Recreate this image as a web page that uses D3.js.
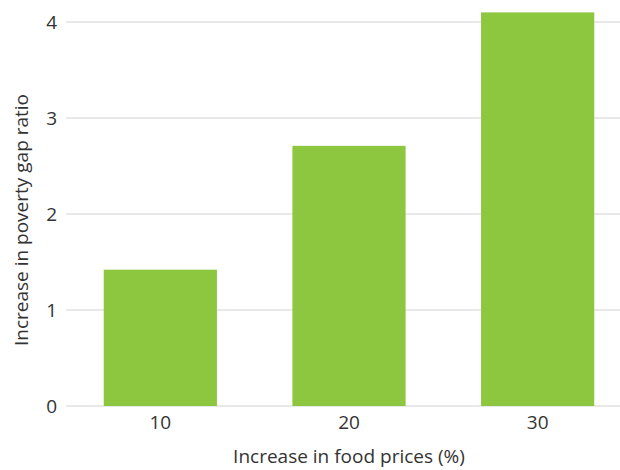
<!DOCTYPE html>
<html>
<head>
<meta charset="utf-8">
<script src="https://cdn.jsdelivr.net/npm/d3@7"></script>
<style>
  body { margin: 0; background: #fff; }
  text { font-family: "Open Sans", Lato, sans-serif; fill: #333; }
</style>
</head>
<body>
<div id="chart"></div>
<script>
// Data
const foodPriceIncrease = ["10", "20", "30"];
const povertyGapIncrease = [1.42, 2.71, 4.1];
const yTicks = [0, 1, 2, 3, 4];

const W = 620, H = 470;
const margin = { top: 22, left: 66, bottom: 64 };
const plotBottom = H - margin.bottom; // 406
const fontSize = "19px";

const svg = d3.select("#chart")
    .append("svg")
    .attr("width", W)
    .attr("height", H);

// Scales
const x = d3.scaleBand()
    .domain(foodPriceIncrease)
    .range([margin.left, 632])
    .paddingInner(0.4)
    .paddingOuter(0.2);

const y = d3.scaleLinear()
    .domain([0, 4])
    .range([plotBottom, margin.top]);

// Gridlines
svg.append("g")
    .selectAll("line")
    .data(yTicks)
    .enter()
    .append("line")
    .attr("x1", margin.left)
    .attr("x2", W)
    .attr("y1", d => y(d))
    .attr("y2", d => y(d))
    .attr("stroke", "#e2e2e2")
    .attr("stroke-width", 1.5);

// Y axis tick labels
const yAxis = svg.append("g")
    .attr("transform", `translate(${margin.left - 9},0)`)
    .call(d3.axisLeft(y).tickValues(yTicks).tickSize(0).tickPadding(0).tickFormat(d3.format("d")));
yAxis.select(".domain").remove();
yAxis.selectAll("text")
    .style("font-size", fontSize)
    .style("font-family", "'Open Sans', Lato, sans-serif")
    .attr("fill", "#333");

// Bars
svg.append("g")
    .selectAll("rect")
    .data(foodPriceIncrease)
    .enter()
    .append("rect")
    .attr("x", d => x(d))
    .attr("y", (d, i) => y(povertyGapIncrease[i]))
    .attr("width", x.bandwidth())
    .attr("height", (d, i) => plotBottom - y(povertyGapIncrease[i]))
    .attr("fill", "#8dc63f");

// X axis tick labels
const xAxis = svg.append("g")
    .attr("transform", `translate(0,${plotBottom})`)
    .call(d3.axisBottom(x).tickSize(0).tickPadding(10));
xAxis.select(".domain").remove();
xAxis.selectAll("text")
    .style("font-size", fontSize)
    .style("font-family", "'Open Sans', Lato, sans-serif")
    .attr("fill", "#333");

// Axis titles
svg.append("text")
    .attr("x", 349)
    .attr("y", 463)
    .attr("text-anchor", "middle")
    .style("font-size", fontSize)
    .text("Increase in food prices (%)");

svg.append("text")
    .attr("transform", "rotate(-90)")
    .attr("x", -220)
    .attr("y", 28)
    .attr("text-anchor", "middle")
    .style("font-size", fontSize)
    .text("Increase in poverty gap ratio");
</script>
</body>
</html>
